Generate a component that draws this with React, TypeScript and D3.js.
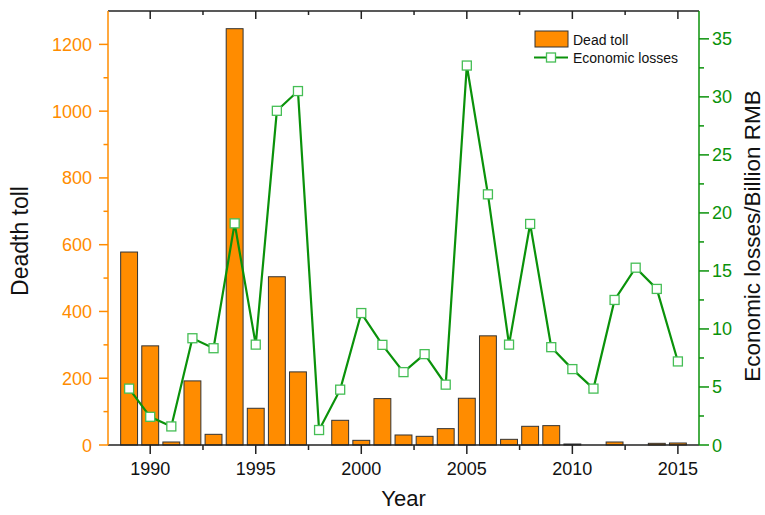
import React from "react";
import * as d3 from "d3";

const years = [1989,1990,1991,1992,1993,1994,1995,1996,1997,1998,1999,2000,2001,2002,2003,2004,2005,2006,2007,2008,2009,2010,2011,2012,2013,2014,2015];
const deadToll = [578,297,9,192,32,1247,110,504,219,0,74,14,139,30,26,49,140,327,17,56,58,3,0,9,0,5,6];
const economicLosses = [4.86,2.43,1.6,9.2,8.34,19.1,8.65,28.8,30.5,1.29,4.77,11.37,8.63,6.28,7.83,5.2,32.7,21.6,8.65,19.05,8.43,6.54,4.86,12.5,15.28,13.45,7.2];
const leftTicks = [0,200,400,600,800,1000,1200];
const rightTicks = [0,5,10,15,20,25,30,35];
const xTicks = [1990,1995,2000,2005,2010,2015];

const W = 765, H = 515;
const L = 108, R = 699, T = 11, B = 445;
const ORANGE = "#FF8C00";
const GREEN = "#0A920A";
const MARK = "#45BE55";
const FONT = "Liberation Sans, Arial, sans-serif";

export default function App() {
  const x = d3.scaleLinear().domain([1988, 2016]).range([L, R]);
  const yL = d3.scaleLinear().domain([0, 1300]).range([B, T]);
  const yR = d3.scaleLinear().domain([0, 37.4]).range([B, T]);
  const bw = x(1988.8) - x(1988);
  const line = d3.line<number>().x((_, i) => x(years[i])).y((d) => yR(d));
  const leftMinor = d3.range(100, 1300, 200);
  const rightMinor = d3.range(2.5, 37.4, 5);
  const xMinor = d3.range(1992.5, 2016, 5);

  return (
    <svg width={W} height={H} style={{ position: "absolute", left: 0, top: 0, background: "#fff" }} fontFamily={FONT}>
      {/* bars */}
      {deadToll.map((v, i) =>
        v > 0 ? (
          <rect key={"b" + i} x={x(years[i]) - bw / 2} y={yL(v)} width={bw} height={B - yL(v)}
            fill={ORANGE} stroke="#333" strokeWidth={1} />
        ) : null
      )}
      {/* line */}
      <path d={line(economicLosses) || ""} fill="none" stroke={GREEN} strokeWidth={2.2} />
      {economicLosses.map((v, i) => (
        <rect key={"m" + i} x={x(years[i]) - 4.5} y={yR(v) - 4.5} width={9} height={9}
          fill="#fff" stroke={MARK} strokeWidth={1.3} />
      ))}
      {/* top border */}
      <line x1={L} x2={R} y1={T} y2={T} stroke="#222" strokeWidth={1.5} />
      {xTicks.map((t) => (
        <line key={"tt" + t} x1={x(t)} x2={x(t)} y1={T} y2={T + 8} stroke="#222" strokeWidth={1.5} />
      ))}
      {xMinor.map((t) => (
        <line key={"tm" + t} x1={x(t)} x2={x(t)} y1={T} y2={T + 4} stroke="#222" strokeWidth={1.5} />
      ))}
      {/* bottom axis */}
      <line x1={L} x2={R} y1={B} y2={B} stroke="#222" strokeWidth={1.5} />
      {xTicks.map((t) => (
        <g key={"bx" + t}>
          <line x1={x(t)} x2={x(t)} y1={B} y2={B + 9} stroke="#222" strokeWidth={1.5} />
          <text x={x(t)} y={B + 30} textAnchor="middle" fontSize={18} fill="#111">{t}</text>
        </g>
      ))}
      {xMinor.map((t) => (
        <line key={"bm" + t} x1={x(t)} x2={x(t)} y1={B} y2={B + 5} stroke="#222" strokeWidth={1.5} />
      ))}
      <text x={(L + R) / 2} y={506} textAnchor="middle" fontSize={22} fill="#111">Year</text>
      {/* left axis */}
      <line x1={L} x2={L} y1={T} y2={B} stroke={ORANGE} strokeWidth={1.5} />
      {leftTicks.map((t) => (
        <g key={"l" + t}>
          <line x1={L - 9} x2={L} y1={yL(t)} y2={yL(t)} stroke={ORANGE} strokeWidth={1.5} />
          <text x={L - 16} y={yL(t) + 6.5} textAnchor="end" fontSize={18} fill={ORANGE}>{t}</text>
        </g>
      ))}
      {leftMinor.map((t) => (
        <line key={"lm" + t} x1={L - 4.5} x2={L} y1={yL(t)} y2={yL(t)} stroke={ORANGE} strokeWidth={1.5} />
      ))}
      <text transform={`translate(28,241) rotate(-90)`} textAnchor="middle" fontSize={23} fill="#111">Deadth toll</text>
      {/* right axis */}
      <line x1={R} x2={R} y1={T} y2={B} stroke={GREEN} strokeWidth={1.5} />
      {rightTicks.map((t) => (
        <g key={"r" + t}>
          <line x1={R} x2={R + 10} y1={yR(t)} y2={yR(t)} stroke={GREEN} strokeWidth={1.5} />
          <text x={R + 13} y={yR(t) + 6.5} textAnchor="start" fontSize={18} fill={GREEN}>{t}</text>
        </g>
      ))}
      {rightMinor.map((t) => (
        <line key={"rm" + t} x1={R} x2={R + 5} y1={yR(t)} y2={yR(t)} stroke={GREEN} strokeWidth={1.5} />
      ))}
      <text transform={`translate(760,${(T + B) / 2 + 8}) rotate(-90)`} textAnchor="middle" fontSize={22.5} fill="#111">Economic losses/Billion RMB</text>
      {/* legend */}
      <rect x={535} y={31} width={33} height={16} fill={ORANGE} stroke="#333" strokeWidth={1} />
      <text x={573} y={45} fontSize={14} fill="#111">Dead toll</text>
      <line x1={534} x2={568} y1={57.5} y2={57.5} stroke={GREEN} strokeWidth={2.2} />
      <rect x={546.5} y={53} width={9} height={9} fill="#fff" stroke={MARK} strokeWidth={1.3} />
      <text x={573} y={63} fontSize={14} fill="#111">Economic losses</text>
    </svg>
  );
}
